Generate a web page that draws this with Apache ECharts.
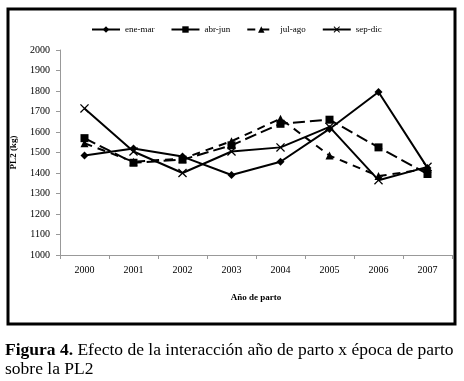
<!DOCTYPE html>
<html>
<head>
<meta charset="utf-8">
<script src="https://cdn.jsdelivr.net/npm/echarts@6/dist/echarts.min.js"></script>
<style>
    html, body { margin: 0; padding: 0; background: #fff; }
    #chart { width: 464px; height: 381px; }
</style>
</head>
<body>
<div id="chart"></div>
<script>
// años de parto
var years = ["2000", "2001", "2002", "2003", "2004", "2005", "2006", "2007"];
// PL2 (kg) por época de parto
var eneMar = [1485, 1520, 1480, 1390, 1455, 1615, 1795, 1425];
var abrJun = [1570, 1450, 1465, 1535, 1640, 1660, 1525, 1395];
var julAgo = [1545, 1455, 1470, 1555, 1665, 1485, 1385, 1420];
var sepDic = [1715, 1505, 1400, 1505, 1525, 1625, 1365, 1430];

var serif = "Liberation Serif";
var xMark = "path://M0,1L1,0L5,4L9,0L10,1L6,5L10,9L9,10L5,6L1,10L0,9L4,5Z";

var chart = echarts.init(document.getElementById("chart"));

var mkSerie = function (name, data, symbol, size, dash) {
    return {
        name: name,
        type: "line",
        data: data,
        symbol: symbol,
        symbolSize: size,
        showAllSymbol: true,
        itemStyle: {color: "#000"},
        lineStyle: {color: "#000", width: 2, type: dash || "solid"},
        emphasis: {disabled: true},
        z: 3
    };
};

chart.setOption({
    animation: false,
    legend: {
        top: 20,
        left: 86,
        itemWidth: 28,
        itemHeight: 8,
        itemGap: 16,
        lineStyle: {width: 2},
        textStyle: {fontFamily: serif, fontSize: 9, color: "#000"},
        data: [
            {name: "ene-mar"},
            {name: "abr-jun", lineStyle: {type: "solid", width: 2}},
            {name: "jul-ago"},
            {name: "sep-dic"}
        ]
    },
    grid: {left: 60, right: 12, top: 50, bottom: 126},
    xAxis: {
        type: "category",
        data: years,
        name: "Año de parto",
        nameLocation: "middle",
        nameGap: 38,
        nameTextStyle: {fontFamily: serif, fontSize: 9, fontWeight: "bold", color: "#000"},
        axisLine: {lineStyle: {color: "#999", width: 1}},
        axisTick: {show: true, length: 4, lineStyle: {color: "#999"}},
        axisLabel: {fontFamily: serif, fontSize: 10, color: "#000", margin: 10}
    },
    yAxis: {
        type: "value",
        min: 1000,
        max: 2000,
        interval: 100,
        name: "PL2 (kg)",
        nameLocation: "middle",
        nameRotate: 90,
        nameGap: 42,
        nameTextStyle: {fontFamily: serif, fontSize: 9, fontWeight: "bold", color: "#000"},
        axisLine: {show: true, lineStyle: {color: "#999", width: 1}},
        axisTick: {show: true, length: 4, lineStyle: {color: "#999"}},
        splitLine: {show: false},
        axisLabel: {
            fontFamily: serif, fontSize: 10, color: "#000", margin: 10,
            formatter: function (v) { return String(v); }
        }
    },
    series: [
        mkSerie("ene-mar", eneMar, "diamond", 8),
        mkSerie("abr-jun", abrJun, "rect", 8, [12, 5]),
        mkSerie("jul-ago", julAgo, "triangle", 8, [8, 6]),
        mkSerie("sep-dic", sepDic, xMark, 9)
    ],
    graphic: [
        {
            type: "rect",
            shape: {x: 8, y: 9, width: 447, height: 315},
            style: {fill: "none", stroke: "#000", lineWidth: 3},
            silent: true
        },
        {
            type: "text",
            left: 5,
            top: 341,
            style: {
                text: "{b|Figura 4.} Efecto de la interacción año de parto x época de parto\nsobre la PL2",
                font: "17.5px " + serif,
                fill: "#000",
                lineHeight: 19,
                rich: {
                    b: {fontFamily: serif, fontSize: 17.5, fontWeight: "bold", fill: "#000"}
                }
            }
        }
    ]
});
</script>
</body>
</html>
